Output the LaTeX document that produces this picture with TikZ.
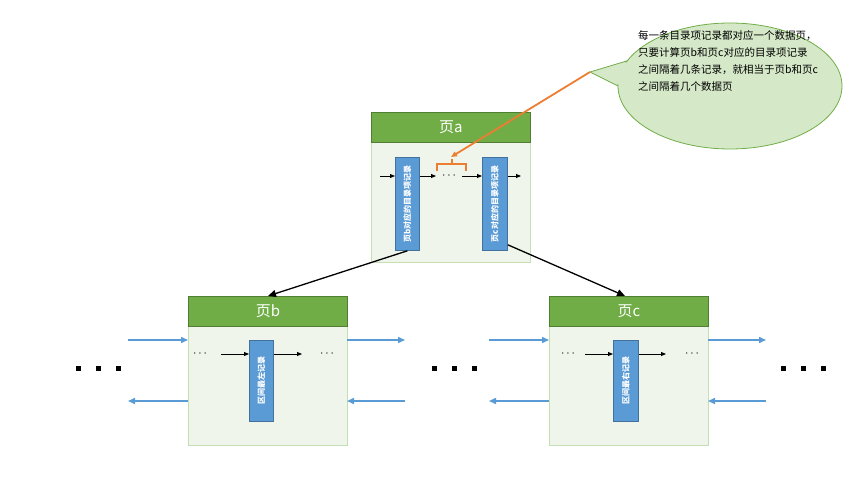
\documentclass[tikz,border=0pt]{standalone}
\usepackage{fontspec}
\setmainfont{Liberation Sans}
\newfontfamily\cjk{Noto Sans CJK SC}
\usetikzlibrary{arrows.meta,decorations.pathreplacing,shapes.geometric}
\definecolor{hdr}{HTML}{70AD47}
\definecolor{hdrd}{HTML}{507E32}
\definecolor{bodyc}{HTML}{EFF5EA}
\definecolor{bodyb}{HTML}{C5DFB4}
\definecolor{rec}{HTML}{5B9BD5}
\definecolor{recd}{HTML}{41719C}
\definecolor{org}{HTML}{ED7D31}
\definecolor{call}{HTML}{D5E8C8}
\begin{document}
\begin{tikzpicture}[x=1pt,y=-1pt,
  body/.style={draw=bodyb,fill=bodyc,line width=0.8pt},
  head/.style={draw=hdrd,fill=hdr,line width=0.8pt,text=white,font=\cjk\fontsize{15}{15}\selectfont},
  rec/.style={draw=recd,fill=rec,line width=0.8pt},
  rtext/.style={text=white,font=\cjk\bfseries\fontsize{8}{8}\selectfont,rotate=90},
  blk/.style={-{Triangle[length=5pt,width=4pt]},line width=0.9pt},
  big/.style={-{Triangle[length=8pt,width=7pt]},line width=1.3pt},
  blu/.style={draw=rec,line width=1.5pt,-{Triangle[length=7pt,width=6pt]}},
  dots/.style={font=\fontsize{13}{13}\selectfont},
  sq/.style={fill=black,minimum size=5pt,inner sep=0pt}]
\useasboundingbox (0,0) rectangle (859,487);
% page a
\path[body] (371,112) rectangle (530,262);
\node[head,minimum width=159pt,minimum height=30pt,inner sep=0pt,anchor=north west] (ha) at (371,112) {页a};
\node[rec,minimum width=24pt,minimum height=93pt,inner sep=0pt,anchor=north west] (rb) at (395,157) {};
\node[rtext] at (rb) {页b对应的目录项记录};
\node[rec,minimum width=25pt,minimum height=93pt,inner sep=0pt,anchor=north west] (rc) at (482,157) {};
\node[rtext] at (rc) {页c对应的目录项记录};
\coordinate (a0) at (380,176);
\coordinate (a1) at (436,176);
\coordinate (a2) at (462,176);
\coordinate (a3) at (521,176);
\node[dots] (da) at (449,176) {$\cdots$};
\draw[blk] (a0) -- (rb.west|-a0);
\draw[blk] (rb.east|-a0) -- (a1);
\draw[blk] (a2) -- (rc.west|-a0);
\draw[blk] (rc.east|-a0) -- (a3);
\draw[org,line width=2pt] (437,171) -- (437,164) -- (466,164) -- (466,171);
\draw[org,line width=2pt] (451.5,164) -- (451.5,159);
% callout
\filldraw[fill=call,draw=hdr,line width=0.8pt] (630,60) -- (590,72) -- (630,92) -- cycle;
\node[ellipse,draw=hdr,fill=call,line width=0.8pt,minimum width=224pt,minimum height=126pt] (co) at (730,86) {};
\fill[call] (628,62) -- (594,72) -- (628,89) -- cycle;
\node[font=\cjk\fontsize{10.5}{17}\selectfont,align=left,anchor=north west,inner sep=0pt] (ct) at (638,30) {每一条目录项记录都对应一个数据页，\\只要计算页b和页c对应的目录项记录\\之间隔着几条记录，就相当于页b和页c\\之间隔着几个数据页};
\coordinate (tip) at (590,72);
\coordinate (bt) at (451,157);
\draw[org,line width=1.8pt,-{Triangle[length=6pt,width=5pt]}] (tip) -- (bt);
% page b
\path[body] (188,296) rectangle (347,445);
\node[head,minimum width=159pt,minimum height=30pt,inner sep=0pt,anchor=north west] (hb) at (188,296) {页b};
\node[rec,minimum width=24pt,minimum height=81pt,inner sep=0pt,anchor=north west] (lb) at (249,340) {};
\node[rtext] at (lb) {区间最左记录};
\node[dots] at (200,354) {$\cdots$};
\node[dots] at (327,354) {$\cdots$};
\coordinate (b0) at (221,354); \coordinate (b1) at (302,354);
\draw[blk] (b0) -- (lb.west|-b0);
\draw[blk] (lb.east|-b0) -- (b1);
% page c
\path[body] (549,296) rectangle (708,445);
\node[head,minimum width=159pt,minimum height=30pt,inner sep=0pt,anchor=north west] (hc) at (549,296) {页c};
\node[rec,minimum width=25pt,minimum height=81pt,inner sep=0pt,anchor=north west] (lc) at (613,340) {};
\node[rtext] at (lc) {区间最右记录};
\node[dots] at (568,354) {$\cdots$};
\node[dots] at (692,354) {$\cdots$};
\coordinate (c0) at (585,354); \coordinate (c1) at (666,354);
\draw[blk] (c0) -- (lc.west|-c0);
\draw[blk] (lc.east|-c0) -- (c1);
% links
\coordinate (pb) at (268,296); \coordinate (pc) at (625,296);
\draw[big] (rb.south) -- (pb);
\draw[big] (rc.south east) ++(0,-6) -- (pc);
% blue arrows
\foreach \l/\r in {128/188,347/405,489/549,708/766}{
  \coordinate (L) at (\l,340); \coordinate (R) at (\r,340);
  \draw[blu] (L) -- (R);
  \coordinate (L2) at (\l,401); \coordinate (R2) at (\r,401);
  \draw[blu] (R2) -- (L2);}
% big dots
\foreach \x in {98,454,803}{\foreach \d in {-20,0,20}{\node[sq] at (\x+\d,368) {};}}
\end{tikzpicture}
\end{document}
